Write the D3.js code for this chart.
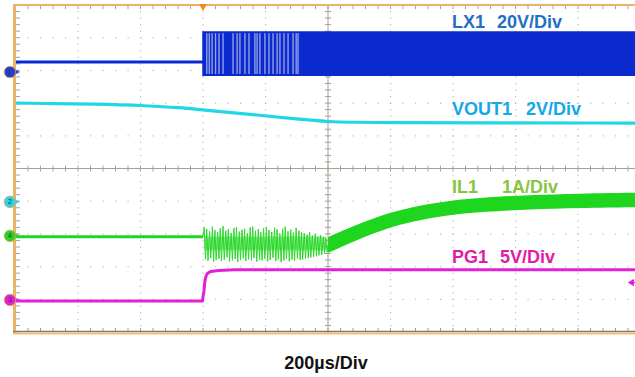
<!DOCTYPE html>
<html>
<head>
<meta charset="utf-8">
<script src="https://cdn.jsdelivr.net/npm/d3@7"></script>
<style>
  body { margin: 0; background: #fff; }
  svg { display: block; font-family: Arial, "Liberation Sans", Helvetica, sans-serif; }
</style>
</head>
<body>
<svg id="scope" width="635" height="377"></svg>
<script>
// time in µs (200µs/Div), level in divisions from the screen centre line
var lx1IdleT = [0, 600];
var lx1IdleV = [3.26, 3.26];
var lx1EnvT = [600, 2000];
var lx1EnvHi = [4.2, 4.2];
var lx1EnvLo = [2.83, 2.83];
// light gaps between the first, sparse switching pulses
var lx1GapT = [612, 620, 629, 640, 651, 664, 696, 709, 718, 734, 747, 766, 773, 782, 798, 811, 824, 837, 846, 859, 872, 888, 898, 904];

var vout1T = [0, 270, 420, 527, 590, 750, 910, 1000, 1100, 2000];
var vout1V = [2.0, 1.97, 1.92, 1.86, 1.80, 1.66, 1.50, 1.43, 1.40, 1.39];

var il1IdleT = [0, 600];
var il1IdleV = [-2.09, -2.09];
var il1RingT = [604, 612, 621, 630, 638, 647, 655, 664, 673, 681, 690, 699, 707, 716, 725, 733, 742, 751, 759, 768, 777, 785, 794, 803, 811, 820, 829, 837, 846, 855, 863, 872, 881, 889, 898, 907, 915, 924, 933, 941, 950, 959, 967, 976, 985, 993];
var il1RingHi = [-1.80, -1.85, -1.92, -1.78, -1.88, -1.95, -1.83, -1.76, -1.90, -1.86, -1.97, -1.82, -1.79, -1.93, -1.87, -1.84, -1.98, -1.80, -1.77, -1.91, -1.85, -1.95, -1.83, -1.79, -1.88, -1.94, -1.81, -1.86, -1.99, -1.84, -1.78, -1.92, -1.87, -1.96, -1.82, -1.90, -1.95, -1.98, -2.02, -1.94, -2.05, -2.00, -2.08, -2.04, -2.10, -2.12];
var il1RingLo = [-2.78, -2.82, -2.74, -2.85, -2.80, -2.76, -2.83, -2.79, -2.72, -2.84, -2.81, -2.77, -2.86, -2.80, -2.75, -2.83, -2.78, -2.82, -2.74, -2.85, -2.79, -2.81, -2.76, -2.84, -2.80, -2.73, -2.83, -2.78, -2.86, -2.81, -2.77, -2.84, -2.79, -2.82, -2.75, -2.80, -2.78, -2.76, -2.74, -2.72, -2.70, -2.68, -2.66, -2.64, -2.60, -2.56];
var il1RampT = [1000, 1050, 1100, 1170, 1230, 1310, 1390, 1500, 1646, 1800, 2000];
var il1RampMid = [-2.34, -2.13, -1.92, -1.67, -1.49, -1.32, -1.20, -1.10, -1.03, -0.99, -0.96];
var il1RampHalf = [0.24, 0.24, 0.23, 0.23, 0.22, 0.22, 0.22, 0.22, 0.22, 0.22, 0.22];

var pg1T = [0, 598, 603, 606, 610, 615, 625, 650, 700, 2000];
var pg1V = [-4.05, -4.05, -3.75, -3.45, -3.28, -3.2, -3.15, -3.12, -3.1, -3.1];

var chanNames = ["1", "2", "4", "3"];
var chanGround = [2.95, -1.02, -2.06, -4.02];
var chanColors = ["#1f3fd6", "#2ad4ea", "#26d326", "#e021d8"];

var labelNames = ["LX1", "VOUT1", "IL1", "PG1"];
var labelScales = ["20V/Div", "2V/Div", "1A/Div", "5V/Div"];
var labelColors = ["#1f70c6", "#13a8e6", "#84c63f", "#e31aa8"];
var timeLabel = "200µs/Div";
var triggerT = 600;
var pgLevelMark = -3.49;

var svg = d3.select("#scope");
var x = d3.scaleLinear().domain([0, 2000]).range([15.5, 640.5]);
var y = d3.scaleLinear().domain([-5, 5]).range([332, 5]);

// graticule
var grid = svg.append("g");
var minorT = d3.range(0, 2001, 40);
var minorV = d3.range(-5, 5.01, 0.2);

[200, 400, 600, 800, 1200, 1400, 1600, 1800].forEach(function(t) {
  grid.selectAll(null).data(minorV).enter().append("rect")
    .attr("x", x(t) - 0.5).attr("y", d => y(d) - 0.5)
    .attr("width", 1.2).attr("height", 1.2).attr("fill", "#b9b9b9");
});
[-4, -3, -2, -1, 1, 2, 3, 4].forEach(function(v) {
  grid.selectAll(null).data(minorT).enter().append("rect")
    .attr("x", d => x(d) - 0.5).attr("y", y(v) - 0.5)
    .attr("width", 1.2).attr("height", 1.2).attr("fill", "#b9b9b9");
});

grid.append("line")
  .attr("x1", x(1000)).attr("x2", x(1000)).attr("y1", y(5)).attr("y2", y(-5))
  .attr("stroke", "#a8a098").attr("stroke-width", 1);
grid.append("line")
  .attr("x1", x(0)).attr("x2", x(2000)).attr("y1", y(0)).attr("y2", y(0))
  .attr("stroke", "#a8a098").attr("stroke-width", 1);
grid.selectAll(null).data(minorV).enter().append("line")
  .attr("x1", x(1000) - 3).attr("x2", x(1000) + 3)
  .attr("y1", d => y(d)).attr("y2", d => y(d))
  .attr("stroke", "#a8a098");
grid.selectAll(null).data(minorT).enter().append("line")
  .attr("x1", d => x(d)).attr("x2", d => x(d))
  .attr("y1", y(0) - 3).attr("y2", y(0) + 3)
  .attr("stroke", "#a8a098");

// border ticks
grid.selectAll(null).data(minorV).enter().append("line")
  .attr("x1", 16).attr("x2", 20)
  .attr("y1", d => y(d)).attr("y2", d => y(d))
  .attr("stroke", "#a0a0a0");
grid.selectAll(null).data(minorT).enter().append("line")
  .attr("x1", d => x(d)).attr("x2", d => x(d))
  .attr("y1", y(5)).attr("y2", y(5) + 4)
  .attr("stroke", "#a0a0a0");
grid.selectAll(null).data(minorT).enter().append("line")
  .attr("x1", d => x(d)).attr("x2", d => x(d))
  .attr("y1", y(-5) - 4).attr("y2", y(-5))
  .attr("stroke", "#a0a0a0");

// traces
var traces = svg.append("g");
var line = d3.line().x(d => x(d[0])).y(d => y(d[1]));
var smooth = d3.line().curve(d3.curveBasis).x(d => x(d[0])).y(d => y(d[1]));
var zip = (a, b) => a.map((t, i) => [t, b[i]]);

// LX1
traces.append("path")
  .datum(zip(lx1IdleT, lx1IdleV))
  .attr("d", line).attr("fill", "none")
  .attr("stroke", "#0a2ad0").attr("stroke-width", 3);
traces.append("path")
  .datum(lx1EnvT.map((t, i) => ({t: t, hi: lx1EnvHi[i], lo: lx1EnvLo[i]})))
  .attr("d", d3.area().x(d => x(d.t)).y0(d => y(d.lo)).y1(d => y(d.hi)))
  .attr("fill", "#0a2ad0");
traces.selectAll(null).data(lx1GapT).enter().append("rect")
  .attr("x", d => x(d) - 0.6).attr("width", 1.3)
  .attr("y", y(lx1EnvHi[0]) + 2).attr("height", y(lx1EnvLo[0]) - y(lx1EnvHi[0]) - 4)
  .attr("fill", "#9aa6e4");
traces.append("line")
  .attr("x1", x(lx1EnvT[0])).attr("x2", x(lx1EnvT[0]))
  .attr("y1", y(lx1EnvHi[0])).attr("y2", y(lx1EnvLo[0]))
  .attr("stroke", "#0a2ad0").attr("stroke-width", 1.5);

// VOUT1
traces.append("path")
  .datum(zip(vout1T, vout1V))
  .attr("d", smooth).attr("fill", "none")
  .attr("stroke", "#22d6e8").attr("stroke-width", 3.2);

// IL1
traces.append("path")
  .datum(zip(il1IdleT, il1IdleV))
  .attr("d", line).attr("fill", "none")
  .attr("stroke", "#1fd61f").attr("stroke-width", 3);
var ring = [];
il1RingT.forEach(function(t, i) {
  ring.push([t, il1RingHi[i]]);
  ring.push([t + 4, il1RingLo[i]]);
});
traces.append("path")
  .datum([[600, il1IdleV[1]]].concat(ring).concat([[1000, il1RampMid[0]]]))
  .attr("d", line).attr("fill", "none")
  .attr("stroke", "#2cd82c").attr("stroke-width", 1);
traces.append("path")
  .datum(il1RingT.map((t, i) => ({t: t, hi: -2.08, lo: -2.5})))
  .attr("d", d3.area().x(d => x(d.t)).y0(d => y(d.lo)).y1(d => y(d.hi)))
  .attr("fill", "#1fd61f").attr("opacity", 0.45);
traces.append("path")
  .datum(il1RampT.map((t, i) => ({t: t, hi: il1RampMid[i] + il1RampHalf[i], lo: il1RampMid[i] - il1RampHalf[i]})))
  .attr("d", d3.area().curve(d3.curveBasis).x(d => x(d.t)).y0(d => y(d.lo)).y1(d => y(d.hi)))
  .attr("fill", "#1fd61f");

// PG1
traces.append("path")
  .datum(zip(pg1T, pg1V))
  .attr("d", line).attr("fill", "none")
  .attr("stroke", "#e021d8").attr("stroke-width", 3);
svg.append("path")
  .attr("d", "M" + (x(2000) - 12) + "," + y(pgLevelMark) + "l5,-3v6z M" + (x(2000) - 8) + "," + y(pgLevelMark) + "h4")
  .attr("fill", "#e021d8").attr("stroke", "#e021d8").attr("stroke-width", 1);

// frame
var frame = svg.append("g");
frame.append("line").attr("x1", 14.5).attr("x2", 14.5).attr("y1", 4).attr("y2", 334)
  .attr("stroke", "#e8b46a").attr("stroke-width", 3);
frame.append("line").attr("x1", 13).attr("x2", 635).attr("y1", 5).attr("y2", 5)
  .attr("stroke", "#e8b46a").attr("stroke-width", 2);
frame.append("line").attr("x1", 13).attr("x2", 635).attr("y1", 331.5).attr("y2", 331.5)
  .attr("stroke", "#8a7a66").attr("stroke-width", 1.5);
frame.append("line").attr("x1", 13).attr("x2", 635).attr("y1", 333.5).attr("y2", 333.5)
  .attr("stroke", "#eec07a").attr("stroke-width", 2);

// trigger position marker
frame.append("path")
  .attr("d", "M" + (x(triggerT) - 4) + ",4h8l-4,7z")
  .attr("fill", "#f08a1c");

// channel ground markers
var marks = svg.append("g").selectAll("g").data(chanNames).enter().append("g")
  .attr("transform", (d, i) => "translate(10," + y(chanGround[i]) + ")");
marks.append("path").attr("d", "M5,-2.5l5,2.5l-5,2.5z")
  .attr("fill", (d, i) => chanColors[i]);
marks.append("circle").attr("r", 5.8)
  .attr("fill", (d, i) => chanColors[i])
  .attr("stroke", "#e8a64c").attr("stroke-width", 0.8);
marks.append("text")
  .attr("text-anchor", "middle").attr("dy", "0.35em")
  .style("font-size", "7px").style("fill", "#333")
  .text(d => d);

// channel labels
var labelY = [28, 115, 193, 263];
var scaleX = [497, 526, 502, 500];
labelNames.forEach(function(n, i) {
  svg.append("text").attr("x", 452).attr("y", labelY[i])
    .style("font-size", "18px").style("font-weight", "bold").style("fill", labelColors[i])
    .text(n);
  svg.append("text").attr("x", scaleX[i]).attr("y", labelY[i])
    .style("font-size", "18px").style("font-weight", "bold").style("fill", labelColors[i])
    .text(labelScales[i]);
});

svg.append("text").attr("x", 326).attr("y", 369)
  .attr("text-anchor", "middle")
  .style("font-size", "18px").style("font-weight", "bold").style("fill", "#111")
  .text(timeLabel);
</script>
</body>
</html>
